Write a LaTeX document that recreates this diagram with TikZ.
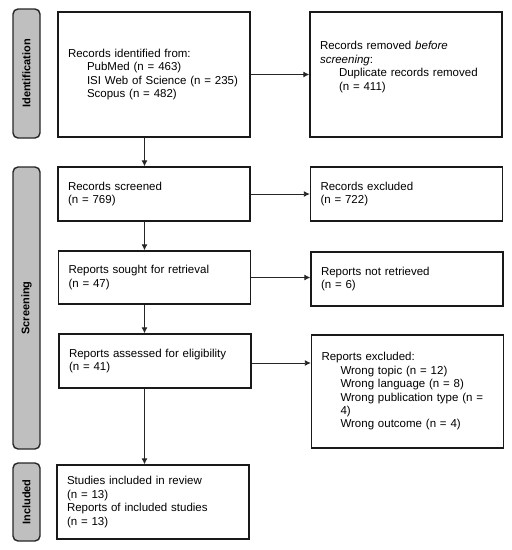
\documentclass[tikz,border=0pt]{standalone}
\usepackage{fontspec}
\setmainfont{Liberation Sans}
\usetikzlibrary{arrows.meta}
\begin{document}
\begin{tikzpicture}[x=1pt,y=-1pt,
  box/.style={draw=black!90, line width=1.4pt, fill=white, text width=172pt, inner xsep=10pt, inner ysep=0pt, align=left, minimum height=#1, font=\fontsize{11.5}{13.4}\selectfont},
  phase/.style={draw=black!85, line width=1.4pt, fill=black!25, rounded corners=5pt, rotate=90, minimum width=#1, minimum height=27pt, inner sep=0pt, font=\fontsize{11}{13}\selectfont\bfseries},
  arr/.style={line width=0.9pt, draw=black!85, -{Latex[length=6pt,width=6pt]}}
]
\useasboundingbox (0,0) rectangle (512,550);
\def\ind{\hspace*{19pt}}
% phase bars
\node[phase=129pt] (pid) at (26.5,73.5) {Identification};
\node[phase=282pt] (pscr) at (26.5,308) {Screening};
\node[phase=78pt] (pinc) at (26.5,502) {Included};
% left column
\node[box=125pt] (ident) at (154,74.5) {Records identified from:\\ \ind PubMed (n = 463)\\ \ind ISI Web of Science (n = 235)\\ \ind Scopus (n = 482)};
\node[box=54pt] (screen) at (154,194) {Records screened\\(n = 769)};
\node[box=53pt] (sought) at (154.5,277.5) {Reports sought for retrieval\\(n = 47)};
\node[box=54pt] (assess) at (155,361) {Reports assessed for eligibility\\(n = 41)};
\node[box=74pt] (incl) at (153,502) {Studies included in review\\(n = 13)\\Reports of included studies\\(n = 13)};
% right column
\node[box=125pt] (removed) at (406,74.5) {Records removed \textit{before}\\ \textit{screening}:\\ \ind Duplicate records removed\\ \ind (n = 411)\\[4pt]\mbox{}};
\node[box=54pt] (excl) at (406.5,194) {Records excluded\\(n = 722)};
\node[box=54pt] (notret) at (407,279) {Reports not retrieved\\(n = 6)};
\node[box=113pt] (rexcl) at (407.5,391.5) {Reports excluded:\\ \ind Wrong topic (n = 12)\\ \ind Wrong language (n = 8)\\ \ind Wrong publication type (n =\\ \ind 4)\\ \ind Wrong outcome (n = 4)};
% arrows
\coordinate (ax) at (144.5,0);
\coordinate (ae) at ([yshift=-2pt]assess.east);
\draw[arr] (ident.south -| ax) -- (screen.north -| ax);
\draw[arr] (screen.south -| ax) -- (sought.north -| ax);
\draw[arr] (sought.south -| ax) -- (assess.north -| ax);
\draw[arr] (assess.south -| ax) -- (incl.north -| ax);
\draw[arr] (ident.east) -- (removed.west |- ident.east);
\draw[arr] (screen.east) -- (excl.west |- screen.east);
\draw[arr] (sought.east) -- (notret.west |- sought.east);
\draw[arr] (ae) -- (rexcl.west |- ae);
\end{tikzpicture}
\end{document}
